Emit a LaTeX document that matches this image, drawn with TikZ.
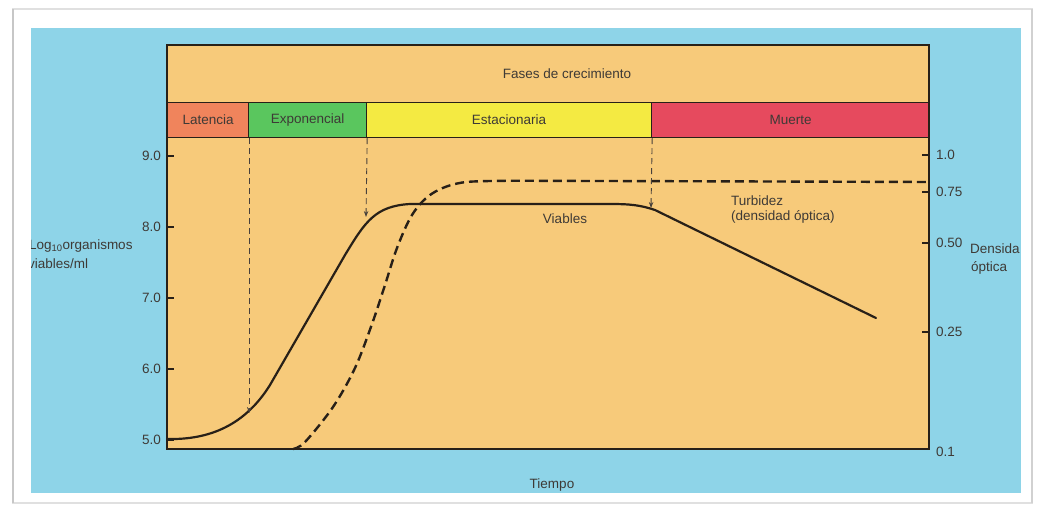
\documentclass[tikz,border=0pt]{standalone}
\usepackage{fontspec}
\setmainfont{Liberation Sans}
\usetikzlibrary{arrows.meta}
\definecolor{panel}{RGB}{142,212,232}
\definecolor{plotbg}{RGB}{247,202,122}
\definecolor{latc}{RGB}{240,132,92}
\definecolor{expc}{RGB}{90,198,94}
\definecolor{estc}{RGB}{244,234,66}
\definecolor{muec}{RGB}{230,74,94}
\definecolor{ink}{RGB}{40,32,24}
\definecolor{txt}{RGB}{62,58,54}
\begin{document}
\begin{tikzpicture}[x=1pt,y=-1pt,
  lbl/.style={font=\fontsize{13.5}{15}\selectfont, text=txt, inner sep=0pt},
  phase/.style={draw=ink, line width=1.2pt, minimum height=35pt, inner sep=0pt, anchor=north west,
                font=\fontsize{13.5}{15}\selectfont, text=txt},
  frameline/.style={draw=ink, line width=1.5pt},
  viable/.style={draw=ink, line width=2.2pt, line cap=round, line join=round},
  turb/.style={draw=ink, line width=2.4pt, dash pattern=on 9pt off 5pt},
  guide/.style={draw=ink!85, line width=0.9pt, dash pattern=on 6pt off 4pt, -{Stealth[length=6pt,width=4.5pt]}},
  tick/.style={draw=ink, line width=1.3pt}]
\useasboundingbox (0,0) rectangle (1045,506);
% card
\fill[white] (0,0) rectangle (1045,506);
\draw[black!12, line width=1.5pt] (13,9) rectangle (1032,503);
\draw[black!22, line width=2pt] (13,9) -- (13,503);
\draw[black!18, line width=2pt] (1032,9) -- (1032,503);
% blue panel
\fill[panel] (31,28) rectangle (1021,493);
% plot box
\fill[plotbg] (167,45) rectangle (929,449);
\node[lbl] (title) at (567,74) {Fases de crecimiento};
\node[phase, fill=latc, minimum width=81pt] (lat) at (167,102) {Latencia};
\node[phase, fill=expc, minimum width=118pt] (exp) at (248,102) {Exponencial};
\node[phase, fill=estc, minimum width=285pt] (est) at (366,102) {Estacionaria};
\node[phase, fill=muec, minimum width=278pt] (mue) at (651,102) {Muerte};
\draw[frameline] (167,449) -- (167,45) -- (929,45) -- (929,449) -- cycle;
% left ticks
\foreach \v/\yy in {9.0/156,8.0/227,7.0/298,6.0/369,5.0/440}{
  \draw[tick] (167,\yy) -- (174,\yy);
  \node[lbl, anchor=east] (l\v) at (161,\yy) {\v};
}
% right ticks
\foreach \v/\yy in {1.0/155,0.75/192,0.50/243,0.25/332}{
  \draw[tick] (922,\yy) -- (929,\yy);
  \node[lbl, anchor=west] (r\v) at (936,\yy) {\v};
}
\node[lbl, anchor=west] (r01) at (936,452) {0.1};
% axis labels
\begin{scope}
\clip (31,28) rectangle (1021,493);
\node[lbl, anchor=west] (ylab1) at (29,246) {Log\textsubscript{10}organismos};
\node[lbl, anchor=west] (ylab2) at (28,264) {viables/ml};
\node[lbl, anchor=west] (odlab1) at (970,249) {Densida};
\node[lbl, anchor=west] (odlab2) at (971,268) {óptica};
\end{scope}
\node[lbl] (tiempo) at (552,485) {Tiempo};
\node[lbl] (viab) at (565,219) {Viables};
\node[lbl, anchor=north west, align=left] (turbl) at (731,196) {Turbidez\\(densidad óptica)};
% curves
\coordinate (c1) at (245,413);
\coordinate (c2) at (366,217);
\coordinate (c3) at (651,208);
\draw[viable] (167,439) .. controls (210,440) and (245,425) .. (270,385)
  -- (345,255) .. controls (365,222) and (375,206) .. (410,204)
  -- (610,204) .. controls (630,204) and (640,205) .. (655,210) -- (876,318);
\draw[turb] plot[smooth, tension=0.55] coordinates {(293,449) (305,442) (333,407) (355,368) (372,324) (385,285) (397,248) (412,215) (430,195) (455,184) (490,181) (600,181) (929,182)};
% guides
\draw[guide] (lat.south east) -- (lat.south east |- c1);
\draw[guide] (exp.south east) -- (c2);
\draw[guide] (est.south east) -- (c3);
\end{tikzpicture}
\end{document}
